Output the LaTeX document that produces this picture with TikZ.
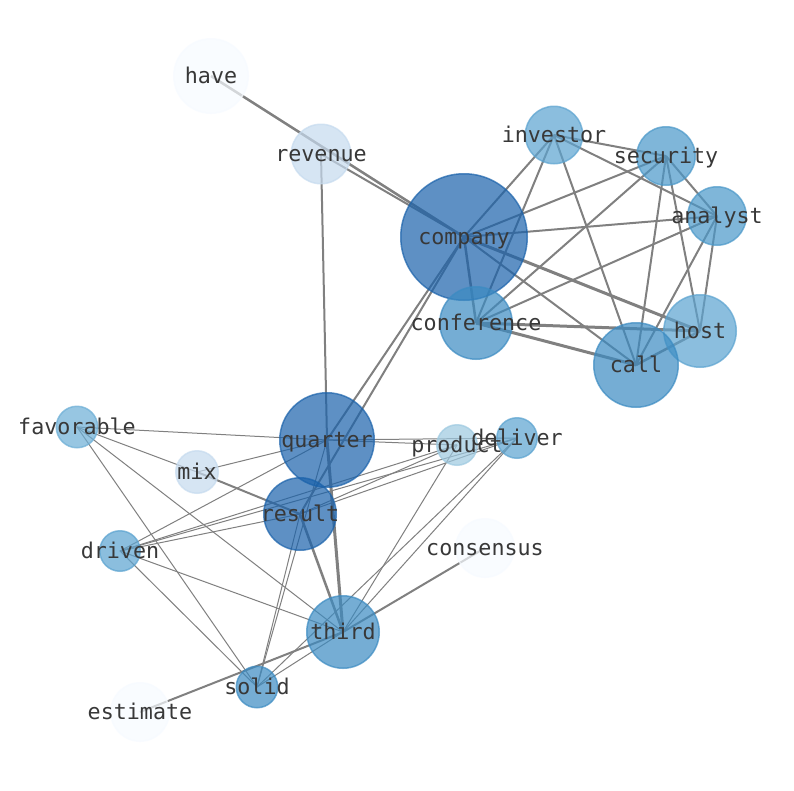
\documentclass[tikz,border=0pt]{standalone}
\usepackage{fontspec}
\newfontfamily\labelfont{DejaVu Sans Mono}
\usetikzlibrary{backgrounds}
\definecolor{cA}{HTML}{F7FBFF}
\definecolor{cB}{HTML}{C6DBEF}
\definecolor{cC}{HTML}{9ECAE1}
\definecolor{cE}{HTML}{6BAED6}
\definecolor{cF}{HTML}{5BA3D0}
\definecolor{cG}{HTML}{4A98C9}
\definecolor{cH}{HTML}{3B8BC2}
\definecolor{cK}{HTML}{1A62AB}
\definecolor{edgegray}{HTML}{808080}
\tikzset{
  nd/.style 2 args={circle, inner sep=0pt, line width=1.5pt, draw=#1, fill=#1,
    fill opacity=0.7, draw opacity=0.7, minimum size={2*#2pt-1.5pt}},
  lbl/.style={font=\fontsize{21.7}{24}\selectfont\labelfont, text=black!78, inner sep=0pt,
    text height=16.5pt, text depth=2.5pt},
  emed/.style={draw=edgegray, line width=2pt},
  ethin/.style={draw=edgegray, line width=1pt},
  ethick/.style={draw=edgegray, line width=3pt},
  ehalf/.style={draw=edgegray, line width=2.5pt}
}
\begin{document}
\begin{tikzpicture}[x=1pt,y=-1pt]
\useasboundingbox (0,0) rectangle (794,790);
% nodes (circles)
\node[nd={cA}{38}]   (have)       at (211,76)  {};
\node[nd={cB}{30.5}] (revenue)    at (321,154) {};
\node[nd={cK}{64}]   (company)    at (464,237) {};
\node[nd={cF}{29.5}] (investor)   at (554,135) {};
\node[nd={cG}{30}]   (security)   at (666,156) {};
\node[nd={cG}{30}]   (analyst)    at (717,216) {};
\node[nd={cH}{37}]   (conference) at (476,323) {};
\node[nd={cF}{37}]   (host)       at (700,331) {};
\node[nd={cH}{43}]   (call)       at (636,365) {};
\node[nd={cE}{21.5}] (favorable)  at (77,427)  {};
\node[nd={cK}{48}]   (quarter)    at (327,440) {};
\node[nd={cC}{21}]   (product)    at (457,445) {};
\node[nd={cF}{21}]   (deliver)    at (517,438) {};
\node[nd={cB}{22}]   (mix)        at (197,472) {};
\node[nd={cK}{37}]   (result)     at (300,514) {};
\node[nd={cF}{21}]   (driven)     at (120,551) {};
\node[nd={cA}{30}]   (consensus)  at (485,548) {};
\node[nd={cH}{37}]   (third)      at (343,632) {};
\node[nd={cH}{21.5}] (solid)      at (257,687) {};
\node[nd={cA}{30}]   (estimate)   at (140,712) {};
% edges beneath the nodes
\begin{pgfonlayer}{background}
\fill[white] (0,0) rectangle (794,790);
\draw[ehalf] (have.center) -- (company.center);
\draw[emed] (revenue.center) -- (company.center);
\draw[emed] (revenue.center) -- (quarter.center);
\draw[emed] (company.center) -- (quarter.center);
\draw[emed] (company.center) -- (result.center);
\draw[emed] (company.center) -- (investor.center);
\draw[emed] (company.center) -- (security.center);
\draw[emed] (company.center) -- (analyst.center);
\draw[ehalf] (company.center) -- (conference.center);
\draw[ethick] (company.center) -- (host.center);
\draw[emed] (company.center) -- (call.center);
\draw[emed] (investor.center) -- (security.center);
\draw[emed] (investor.center) -- (analyst.center);
\draw[emed] (investor.center) -- (conference.center);
\draw[emed] (investor.center) -- (call.center);
\draw[emed] (security.center) -- (analyst.center);
\draw[emed] (security.center) -- (conference.center);
\draw[emed] (security.center) -- (call.center);
\draw[emed] (security.center) -- (host.center);
\draw[emed] (analyst.center) -- (conference.center);
\draw[emed] (analyst.center) -- (call.center);
\draw[emed] (analyst.center) -- (host.center);
\draw[ethick] (conference.center) -- (call.center);
\draw[ethick] (conference.center) -- (host.center);
\draw[ehalf] (call.center) -- (host.center);
\draw[ethick] (quarter.center) -- (third.center);
\draw[ehalf] (result.center) -- (third.center);
\draw[emed] (mix.center) -- (result.center);
\draw[emed] (third.center) -- (estimate.center);
\draw[emed] (third.center) -- (consensus.center);
\draw[ethin] (favorable.center) -- (quarter.center);
\draw[ethin] (favorable.center) -- (mix.center);
\draw[ethin] (favorable.center) -- (third.center);
\draw[ethin] (favorable.center) -- (solid.center);
\draw[ethin] (mix.center) -- (quarter.center);
\draw[ethin] (driven.center) -- (quarter.center);
\draw[ethin] (driven.center) -- (product.center);
\draw[ethin] (driven.center) -- (deliver.center);
\draw[ethin] (driven.center) -- (result.center);
\draw[ethin] (driven.center) -- (third.center);
\draw[ethin] (driven.center) -- (solid.center);
\draw[ethin] (quarter.center) -- (product.center);
\draw[ethin] (quarter.center) -- (deliver.center);
\draw[ethin] (result.center) -- (product.center);
\draw[ethin] (result.center) -- (deliver.center);
\draw[ethin] (product.center) -- (third.center);
\draw[ethin] (deliver.center) -- (third.center);
\draw[ethin] (deliver.center) -- (solid.center);
\draw[ethin] (solid.center) -- (result.center);
\draw[ethin] (solid.center) -- (quarter.center);
\draw[ethin] (solid.center) -- (third.center);
\end{pgfonlayer}
% labels on top
\node[lbl] (have-l)       at (have)       {have};
\node[lbl] (revenue-l)    at (revenue)    {revenue};
\node[lbl] (company-l)    at (company)    {company};
\node[lbl] (investor-l)   at (investor)   {investor};
\node[lbl] (security-l)   at (security)   {security};
\node[lbl] (analyst-l)    at (analyst)    {analyst};
\node[lbl] (conference-l) at (conference) {conference};
\node[lbl] (host-l)       at (host)       {host};
\node[lbl] (call-l)       at (call)       {call};
\node[lbl] (favorable-l)  at (favorable)  {favorable};
\node[lbl] (quarter-l)    at (quarter)    {quarter};
\node[lbl] (product-l)    at (product)    {product};
\node[lbl] (deliver-l)    at (deliver)    {deliver};
\node[lbl] (mix-l)        at (mix)        {mix};
\node[lbl] (result-l)     at (result)     {result};
\node[lbl] (driven-l)     at (driven)     {driven};
\node[lbl] (consensus-l)  at (consensus)  {consensus};
\node[lbl] (third-l)      at (third)      {third};
\node[lbl] (solid-l)      at (solid)      {solid};
\node[lbl] (estimate-l)   at (estimate)   {estimate};
\end{tikzpicture}
\end{document}
